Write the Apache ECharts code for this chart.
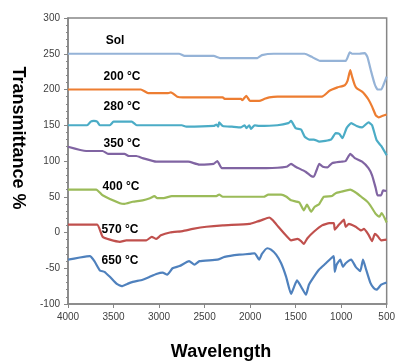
<!DOCTYPE html>
<html><head><meta charset="utf-8">
<script src="https://cdn.jsdelivr.net/npm/echarts@6/dist/echarts.min.js"></script>
<style>html,body{margin:0;padding:0;background:#fff}#c{width:398px;height:361px}</style>
</head><body><div id="c"></div>
<script>
const seriesNames = ['Sol', '200 °C', '280 °C', '350 °C', '400 °C', '570 °C', '650 °C'];
const xTicks = [4000, 3500, 3000, 2500, 2000, 1500, 1000, 500];
const yTicks = [-100, -50, 0, 50, 100, 150, 200, 250, 300];

const sol = [[4000,250],[2780,250],[2720,247],[2400,247],[2330,244],[1920,244],[1870,248],[1740,250],[1400,250],[1330,246],[1230,240],[950,240],[905,252],[880,250],[800,250],[740,251],[710,245],[670,225],[630,207],[600,200],[560,200],[530,208],[500,218]];
const t200 = [[4000,200],[3200,200],[3120,195],[2900,195],[2870,196],[2800,190],[2740,189],[2300,189],[2280,187],[2100,187],[2086,185],[2042,191],[2000,184],[1900,184],[1840,187],[1790,189],[1700,190],[1211,190],[1130,198],[1100,200],[1040,203],[960,206],[930,212],[900,227],[880,218],[850,206],[830,202],[770,197],[740,193],[700,186],[660,176],[620,164],[590,161],[550,163],[500,165]];
const t280 = [[4000,150],[3790,150],[3750,155],[3716,156],[3680,155],[3650,150],[3540,150],[3500,155],[3300,155],[3245,150],[2750,150],[2700,148],[2400,149],[2370,151],[2350,148],[2340,154],[2300,149],[2200,148],[2100,147],[2060,150],[2040,146],[2010,150],[1990,145],[1950,150],[1900,149],[1700,150],[1580,153],[1550,156],[1500,146],[1440,144],[1400,134],[1350,130],[1300,130],[1240,127],[1110,130],[1060,139],[1020,138],[985,132],[940,146],[890,153],[830,149],[770,147],[700,154],[660,150],[610,129],[560,121],[500,108]];
const t350 = [[4000,120],[3800,114],[3620,114],[3560,110],[3380,110],[3330,107],[3250,107],[3180,104],[3030,99],[2680,99],[2560,95],[2400,96],[2360,100],[2310,90],[1820,90],[1600,92],[1550,96],[1500,92],[1390,85],[1330,79],[1300,78],[1270,87],[1240,96],[1200,92],[1150,91],[1100,97],[1000,99],[950,100],[900,110],[850,104],[770,99],[700,90],[660,80],[620,62],[600,52],[560,52],[540,59],[500,58]];
const t400 = [[4000,60],[3690,60],[3620,52],[3430,41],[3380,40],[3290,43],[3180,45],[3100,48],[3050,51],[3020,48],[2950,48],[2860,51],[2370,51],[2340,53],[2300,50],[1850,50],[1800,53],[1660,53],[1600,50],[1550,45],[1460,42],[1410,31],[1375,39],[1330,29],[1290,36],[1240,40],[1190,50],[1100,51],[1060,55],[1000,57],[900,60],[840,56],[780,50],[720,44],[680,38],[620,26],[580,22],[555,27],[500,14]];
const t570 = [[4000,11],[3680,11],[3620,-6],[3540,-10],[3430,-13],[3360,-11],[3140,-11],[3080,-6],[3030,-9],[2980,-4],[2880,0],[2740,2],[2630,5],[2480,8],[2300,10],[2010,12],[1930,15],[1880,17],[1790,21],[1750,17],[1690,8],[1600,-5],[1550,-11],[1480,-9],[1440,-12],[1410,-16],[1370,-8],[1300,1],[1210,10],[1130,13],[1080,13],[1070,4],[1030,10],[1000,14],[970,18],[950,8],[915,12],[840,8],[780,3],[750,5],[700,-3],[660,-12],[630,-2],[600,-5],[560,-11],[500,-10]];
const t650 = [[4000,-38],[3870,-35],[3760,-33],[3710,-40],[3650,-53],[3600,-55],[3540,-62],[3464,-72],[3409,-75],[3350,-72],[3289,-69],[3180,-66],[3103,-62],[3030,-58],[2961,-56],[2910,-59],[2852,-50],[2775,-47],[2670,-40],[2611,-45],[2556,-40],[2360,-38],[2280,-34],[2119,-31],[2009,-30],[1950,-29],[1900,-38],[1870,-30],[1812,-22],[1770,-24],[1714,-31],[1659,-43],[1604,-62],[1550,-86],[1517,-76],[1484,-67],[1430,-78],[1386,-87],[1354,-73],[1300,-62],[1244,-52],[1167,-43],[1110,-36],[1080,-33],[1070,-55],[1050,-45],[1010,-38],[980,-48],[950,-43],[890,-38],[840,-48],[790,-54],[760,-38],[730,-50],[680,-70],[640,-78],[610,-80],[560,-73],[500,-70]];

const allData = [sol, t200, t280, t350, t400, t570, t650];
const colors = ['#95B3D7', '#ED7D31', '#4BACC6', '#8064A2', '#9BBB59', '#C0504D', '#4F81BD'];
const labelPos = [[115,41],[122,77],[122,107],[122,144],[121,187],[120,230],[120,261]];

const chart = echarts.init(document.getElementById('c'), null, {renderer: 'canvas'});
const gray = '#868686';
const option = {
  animation: false,
  grid: {left: 68, right: 10, top: 18, bottom: 57, show: true, borderColor: gray, borderWidth: 1.5, backgroundColor: 'transparent'},
  xAxis: {
    type: 'value', inverse: true, min: xTicks[xTicks.length-1], max: xTicks[0], interval: 500,
    axisLine: {show: true, onZero: false, lineStyle: {color: gray, width: 1.5}},
    axisTick: {show: true, length: 4, lineStyle: {color: gray}},
    splitLine: {show: false},
    axisLabel: {color: '#404040', fontSize: 10, fontFamily: 'Liberation Sans', margin: 8, formatter: v => String(v)}
  },
  yAxis: {
    type: 'value', min: yTicks[0], max: yTicks[yTicks.length-1], interval: 50,
    axisLine: {show: true, onZero: false, lineStyle: {color: gray, width: 1.5}},
    axisTick: {show: true, length: 4, lineStyle: {color: gray}},
    minorTick: {show: true, splitNumber: 5, length: 2, lineStyle: {color: gray}},
    splitLine: {show: false},
    axisLabel: {color: '#404040', fontSize: 10, fontFamily: 'Liberation Sans', margin: 8, formatter: v => String(v)}
  },
  series: allData.map((d, i) => ({
    name: seriesNames[i], type: 'line', data: d, showSymbol: false, smooth: 0.15,
    lineStyle: {color: colors[i], width: 2.2}, itemStyle: {color: colors[i]}
  })),
  graphic: [
    ...seriesNames.map((n, i) => ({
      type: 'text', x: labelPos[i][0], y: labelPos[i][1], z: 100,
      style: {text: n, fill: '#000', font: 'bold 12px "Liberation Sans"', align: 'center', verticalAlign: 'middle'}
    })),
    {type: 'text', x: 18, y: 138, rotation: -Math.PI/2, z: 100,
      style: {text: 'Transmittance %', fill: '#000', font: 'bold 18px "Liberation Sans"', align: 'center', verticalAlign: 'middle'}},
    {type: 'text', x: 221, y: 352, z: 100,
      style: {text: 'Wavelength', fill: '#000', font: 'bold 18px "Liberation Sans"', align: 'center', verticalAlign: 'middle'}}
  ]
};
chart.setOption(option);
</script>
</body></html>
